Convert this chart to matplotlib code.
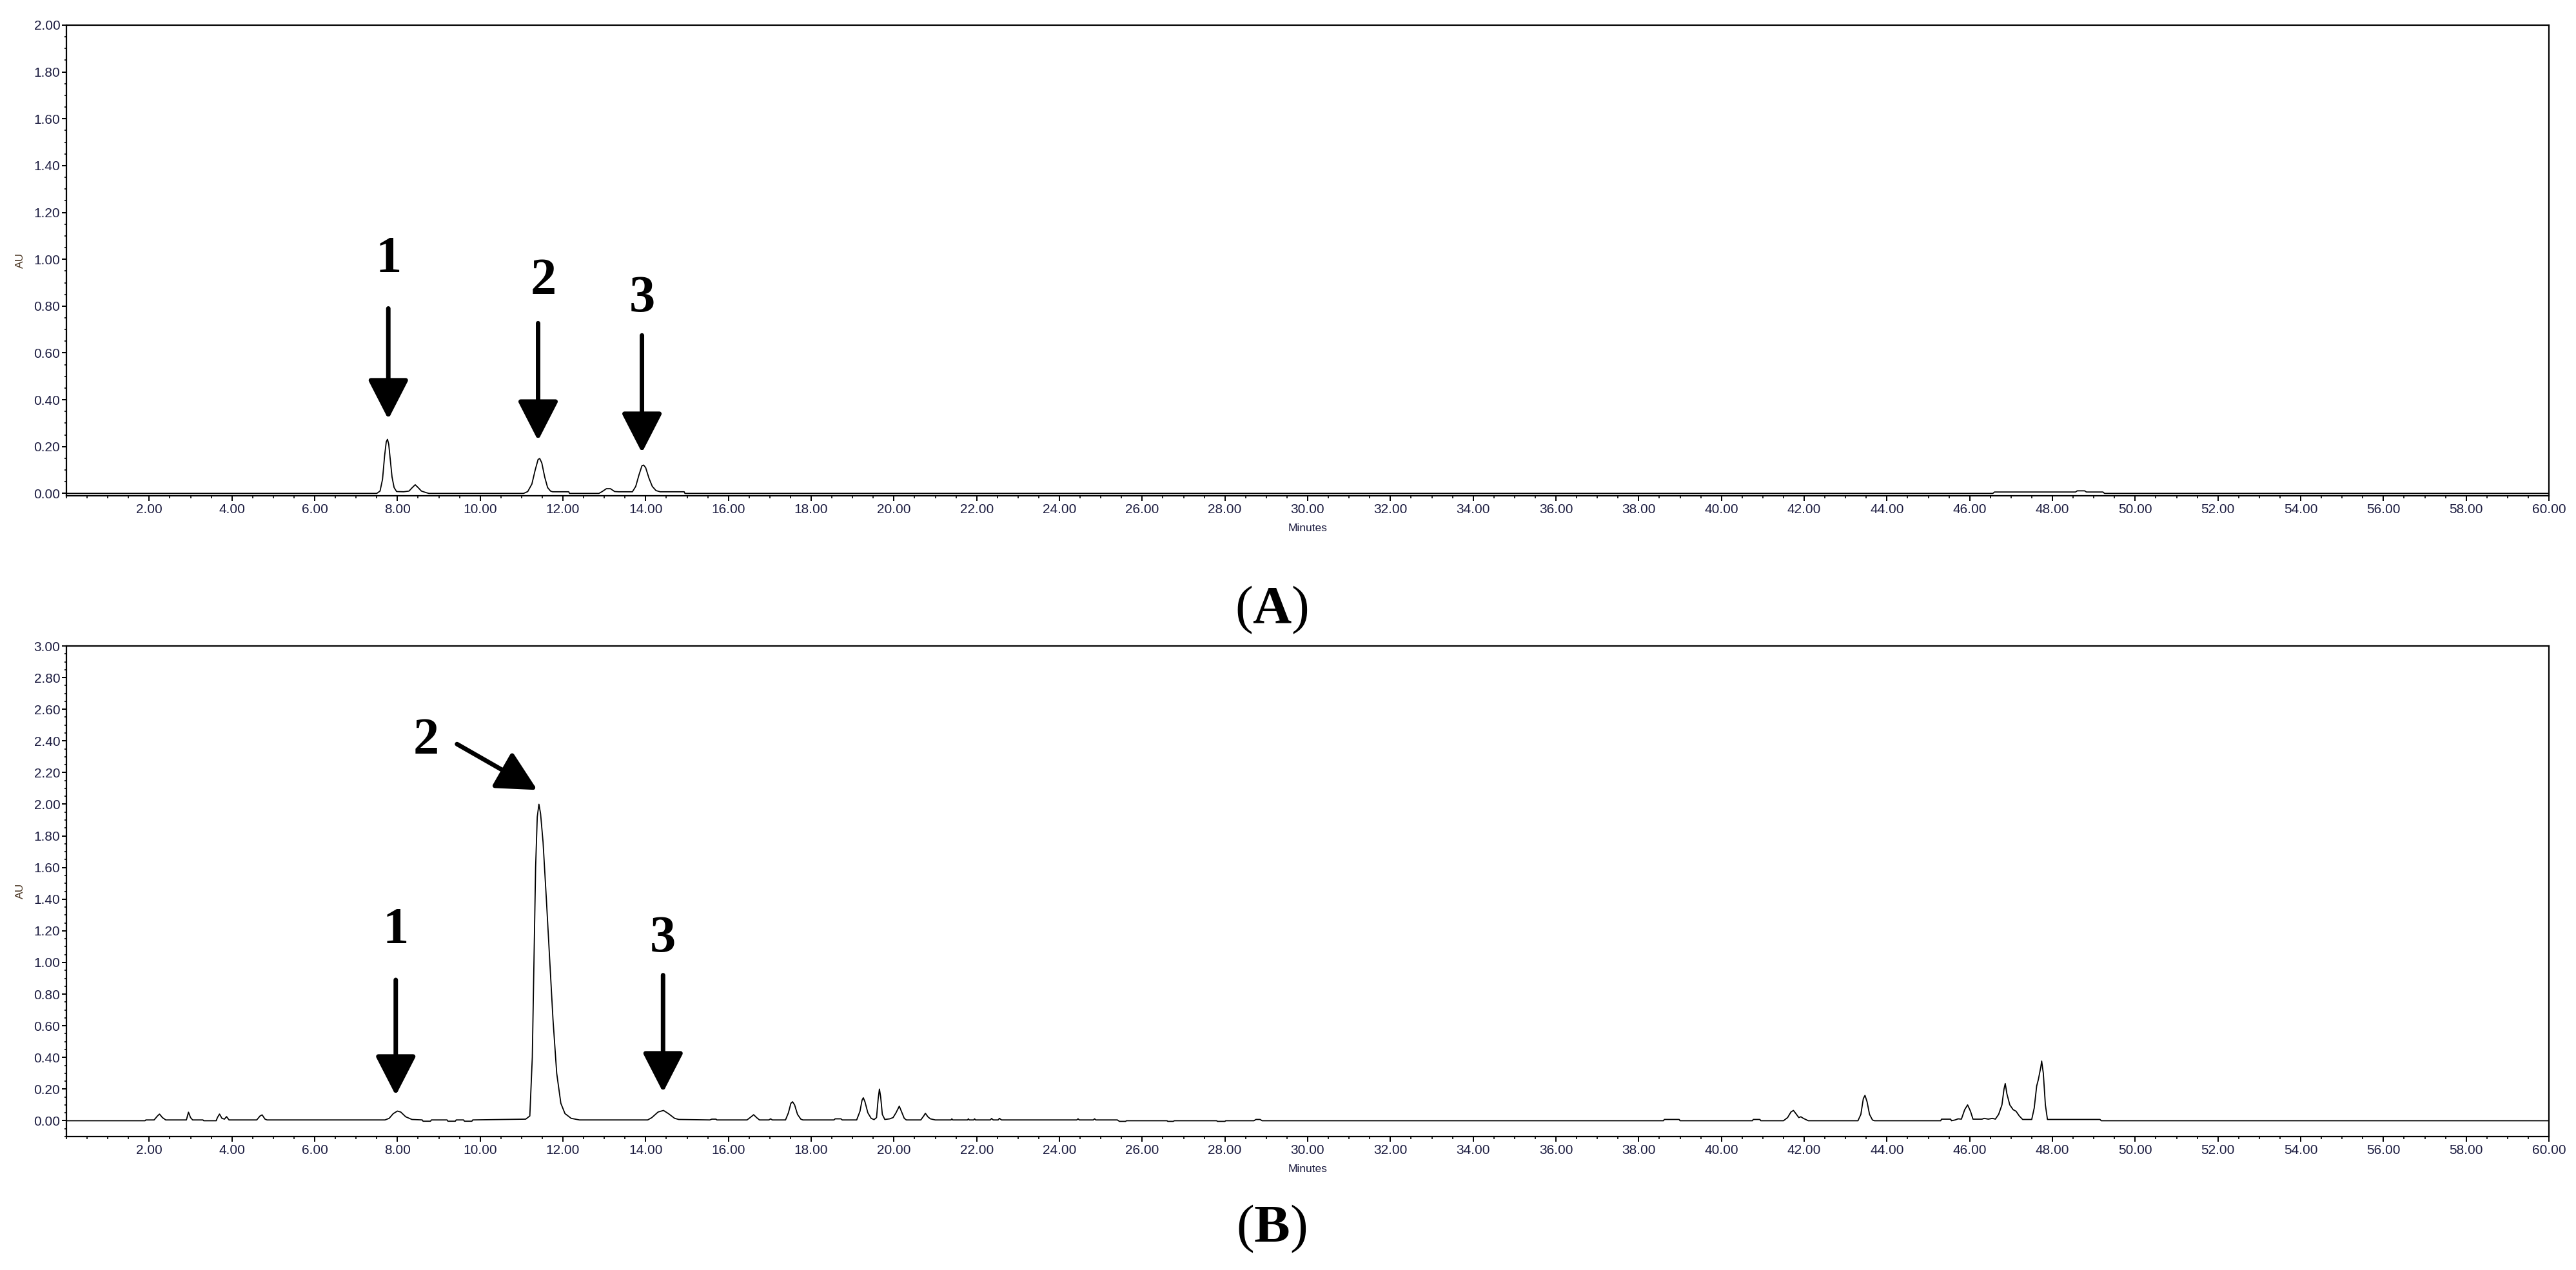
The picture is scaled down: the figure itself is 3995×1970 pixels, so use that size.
import matplotlib
matplotlib.use('Agg')
import matplotlib.pyplot as plt
from matplotlib.ticker import MultipleLocator, FormatStrFormatter

# chromatogram (A): standards
time_a = [0.0, 7.50, 7.58, 7.64, 7.69, 7.73, 7.76, 7.79, 7.83, 7.87, 7.92, 7.98, 8.15, 8.28, 8.36,
          8.43, 8.50, 8.58, 8.70, 8.76, 11.05, 11.15, 11.25, 11.33, 11.40, 11.44, 11.49, 11.56,
          11.63, 11.70, 11.75, 12.14, 12.16, 12.87, 12.95, 13.05, 13.15, 13.25, 13.35, 13.68,
          13.76, 13.84, 13.91, 13.95, 14.00, 14.08, 14.16, 14.25, 14.35, 14.93, 14.95, 46.56,
          46.60, 48.56, 48.60, 48.78, 48.82, 49.22, 49.26, 60.0]
au_a = [0.0, 0.0, 0.010, 0.060, 0.160, 0.220, 0.231, 0.210, 0.140, 0.070, 0.025, 0.008, 0.007,
        0.010, 0.025, 0.037, 0.025, 0.010, 0.003, 0.0, 0.0, 0.008, 0.040, 0.100, 0.145, 0.149,
        0.130, 0.070, 0.025, 0.010, 0.007, 0.007, 0.0, 0.0, 0.008, 0.020, 0.020, 0.008, 0.007,
        0.007, 0.030, 0.080, 0.118, 0.121, 0.110, 0.065, 0.030, 0.012, 0.007, 0.007, 0.0, 0.0,
        0.006, 0.006, 0.011, 0.011, 0.006, 0.006, 0.0, 0.0]

# chromatogram (B): sample
time_b = [0.0, 1.90, 1.92, 2.12, 2.20, 2.25, 2.32, 2.40, 2.90, 2.95, 3.00, 3.05, 3.30, 3.32, 3.62,
          3.65, 3.70, 3.76, 3.82, 3.87, 3.93, 4.60, 4.68, 4.73, 4.80, 4.85, 7.70, 7.80, 7.90,
          8.00, 8.08, 8.20, 8.35, 8.60, 8.62, 8.80, 8.82, 9.20, 9.22, 9.40, 9.42, 9.60, 9.62,
          9.80, 9.82, 11.10, 11.20, 11.26, 11.30, 11.34, 11.38, 11.42, 11.46, 11.52, 11.60, 11.68,
          11.76, 11.85, 11.95, 12.05, 12.20, 12.40, 14.05, 14.15, 14.30, 14.43, 14.55, 14.70,
          14.80, 15.55, 15.60, 15.70, 15.72, 16.45, 16.55, 16.61, 16.68, 16.75, 16.98, 17.02,
          17.06, 17.38, 17.45, 17.51, 17.55, 17.60, 17.67, 17.75, 17.80, 18.55, 18.58, 18.72,
          18.75, 19.10, 19.18, 19.23, 19.26, 19.30, 19.37, 19.45, 19.52, 19.58, 19.62, 19.65,
          19.68, 19.72, 19.78, 19.90, 19.98, 20.05, 20.13, 20.18, 20.25, 20.30, 20.65, 20.72,
          20.76, 20.82, 20.88, 21.00, 21.38, 21.40, 21.42, 21.78, 21.80, 21.82, 21.93, 21.95,
          21.97, 22.33, 22.36, 22.40, 22.52, 22.55, 22.60, 24.42, 24.45, 24.48, 24.82, 24.85,
          24.88, 25.40, 25.45, 25.60, 25.62, 26.60, 26.62, 26.75, 26.78, 27.80, 27.82, 28.00,
          28.02, 28.70, 28.75, 28.85, 28.90, 38.60, 38.62, 38.98, 39.00, 40.75, 40.77, 40.93,
          40.95, 41.50, 41.60, 41.68, 41.74, 41.80, 41.87, 41.92, 41.98, 42.10, 43.30, 43.37,
          43.43, 43.47, 43.52, 43.58, 43.65, 43.70, 45.30, 45.32, 45.54, 45.56, 45.65, 45.72,
          45.80, 45.88, 45.95, 46.02, 46.08, 46.30, 46.35, 46.45, 46.55, 46.62, 46.70, 46.78,
          46.83, 46.86, 46.90, 46.97, 47.05, 47.12, 47.20, 47.28, 47.50, 47.56, 47.62, 47.66,
          47.72, 47.74, 47.78, 47.83, 47.88, 49.15, 49.18, 60.0]
au_b = [0.0, 0.0, 0.005, 0.005, 0.030, 0.042, 0.020, 0.005, 0.005, 0.054, 0.020, 0.005, 0.005,
        0.0, 0.0, 0.020, 0.042, 0.015, 0.010, 0.026, 0.005, 0.005, 0.030, 0.037, 0.010, 0.005,
        0.005, 0.015, 0.045, 0.061, 0.055, 0.025, 0.008, 0.005, -0.003, -0.003, 0.005, 0.005,
        -0.003, -0.003, 0.005, 0.005, -0.003, -0.003, 0.005, 0.010, 0.030, 0.400, 1.000, 1.600,
        1.920, 2.000, 1.940, 1.760, 1.400, 1.020, 0.640, 0.300, 0.110, 0.045, 0.015, 0.005,
        0.005, 0.020, 0.055, 0.065, 0.045, 0.015, 0.008, 0.005, 0.010, 0.010, 0.005, 0.005,
        0.025, 0.038, 0.020, 0.005, 0.005, 0.012, 0.005, 0.005, 0.050, 0.110, 0.120, 0.100,
        0.040, 0.010, 0.005, 0.005, 0.012, 0.012, 0.005, 0.005, 0.060, 0.130, 0.145, 0.120,
        0.050, 0.015, 0.007, 0.020, 0.140, 0.200, 0.150, 0.040, 0.008, 0.012, 0.020, 0.050,
        0.092, 0.060, 0.015, 0.005, 0.005, 0.030, 0.047, 0.025, 0.012, 0.005, 0.005, 0.012,
        0.005, 0.005, 0.012, 0.005, 0.005, 0.012, 0.005, 0.005, 0.014, 0.005, 0.005, 0.015,
        0.005, 0.005, 0.012, 0.005, 0.005, 0.012, 0.005, 0.005, -0.004, -0.004, 0.0, 0.0,
        -0.004, -0.004, 0.0, 0.0, -0.004, -0.004, 0.0, 0.0, 0.008, 0.008, 0.0, 0.0, 0.008,
        0.008, 0.0, 0.0, 0.008, 0.008, 0.0, 0.0, 0.020, 0.055, 0.065, 0.045, 0.020, 0.025,
        0.015, 0.0, 0.0, 0.040, 0.140, 0.160, 0.120, 0.040, 0.005, 0.0, 0.0, 0.010, 0.010, 0.0,
        0.005, 0.012, 0.010, 0.070, 0.100, 0.060, 0.010, 0.010, 0.015, 0.010, 0.015, 0.010,
        0.040, 0.100, 0.200, 0.235, 0.170, 0.100, 0.070, 0.060, 0.030, 0.008, 0.008, 0.080,
        0.220, 0.260, 0.340, 0.377, 0.300, 0.100, 0.008, 0.008, 0.0, 0.0]

# peak labels: text position, arrow start, arrow tip
labels_a = ['1', '2', '3']
text_xy_a = [(7.78, 1.00), (11.53, 0.905), (13.92, 0.83)]
arrow_from_a = [(7.78, 0.79), (11.40, 0.727), (13.91, 0.675)]
arrow_to_a = [(7.78, 0.317), (11.40, 0.226), (13.91, 0.174)]

labels_b = ['1', '2', '3']
text_xy_b = [(7.96, 1.20), (8.70, 2.40), (14.42, 1.15)]
arrow_from_b = [(7.96, 0.89), (9.44, 2.38), (14.42, 0.92)]
arrow_to_b = [(7.96, 0.16), (11.38, 2.09), (14.42, 0.18)]

W, H = 3995, 1970
fig = plt.figure(figsize=(W / 100, H / 100), dpi=100)
plt.rcParams['mathtext.fontset'] = 'custom'
plt.rcParams['mathtext.rm'] = 'Liberation Serif'
plt.rcParams['mathtext.bf'] = 'Liberation Serif:bold'

tick_color = '#1c1c40'


def make_axes(top_px, bottom_px, ymax):
    ax = fig.add_axes([103 / W, 1 - bottom_px / H, (3953 - 103) / W, (bottom_px - top_px) / H])
    ax.set_xlim(0, 60)
    ax.xaxis.set_minor_locator(MultipleLocator(0.5))
    ax.yaxis.set_minor_locator(MultipleLocator(0.05))
    ax.set_xticks([t for t in range(2, 61, 2)])
    ax.set_yticks([i * 0.2 for i in range(int(round(ymax / 0.2)) + 1)])
    ax.xaxis.set_major_formatter(FormatStrFormatter('%.2f'))
    ax.yaxis.set_major_formatter(FormatStrFormatter('%.2f'))
    for s in ax.spines.values():
        s.set_linewidth(1.6)
    ax.tick_params(which='major', direction='out', length=5.5, width=1.4, labelsize=15,
                   labelcolor=tick_color, pad=3, labelfontfamily='Liberation Sans')
    ax.tick_params(which='minor', direction='out', length=3, width=1.2)
    ax.tick_params(axis='y', which='major', length=5, pad=2)
    ax.tick_params(axis='y', which='minor', length=2.5)
    return ax


ax_a = make_axes(39, 769, 2.0)
ax_a.set_ylim(-0.01, 2.0)
ax_a.plot(time_a, au_a, color='black', lw=1.3)

ax_b = make_axes(1002, 1763, 3.0)
ax_b.set_ylim(-0.10, 3.0)
ax_b.plot(time_b, au_b, color='black', lw=1.3)

for ax, labs, txy, afrom, ato in [(ax_a, labels_a, text_xy_a, arrow_from_a, arrow_to_a),
                                  (ax_b, labels_b, text_xy_b, arrow_from_b, arrow_to_b)]:
    for lab, t, a0, a1 in zip(labs, txy, afrom, ato):
        ax.text(t[0], t[1], lab, ha='center', va='center', fontsize=58,
                fontfamily='Liberation Serif', fontweight='bold')
        ax.annotate('', xy=a1, xytext=a0, xycoords='data', textcoords='data',
                    arrowprops=dict(arrowstyle='-|>,head_length=3.8,head_width=1.95',
                                    mutation_scale=10, lw=5, color='black',
                                    shrinkA=0, shrinkB=0))

# axis titles
for y_min, y_au in [(820, 404), (1814, 1382)]:
    fig.text(2028 / W, 1 - y_min / H, 'Minutes', ha='center', va='center', fontsize=12.5,
             family='Liberation Sans', color=tick_color)
    fig.text(31 / W, 1 - y_au / H, 'AU', ha='center', va='center', fontsize=12.5,
             family='Liberation Sans', color='#4a3522', rotation=90)

fig.text(1972 / W, 1 - 946 / H, r'($\mathbf{A}$)', ha='center', va='center', fontsize=60,
         family='Liberation Serif')
fig.text(1972 / W, 1 - 1906 / H, r'($\mathbf{B}$)', ha='center', va='center', fontsize=60,
         family='Liberation Serif')

fig.savefig('out.png', dpi=100, facecolor='white')
